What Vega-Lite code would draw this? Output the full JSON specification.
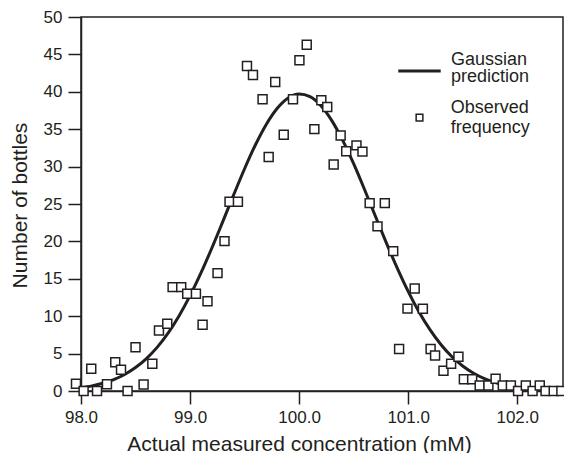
{
  "$schema": "https://vega.github.io/schema/vega-lite/v6.json",
  "autosize": {"type": "none"},
  "padding": {"left": 81, "top": 17, "right": 1, "bottom": 62},
  "width": 482,
  "height": 374,
  "background": "white",
  "config": {
    "view": {"stroke": "#231f20", "strokeWidth": 1.5},
    "font": "Liberation Sans",
    "axis": {
      "grid": false,
      "domainColor": "#231f20",
      "domainWidth": 1.5,
      "tickColor": "#231f20",
      "tickWidth": 1.5,
      "tickSize": 13,
      "labelColor": "#231f20",
      "labelFont": "Liberation Sans",
      "labelFontSize": 17,
      "titleColor": "#231f20",
      "titleFont": "Liberation Sans",
      "titleFontSize": 21,
      "titleFontWeight": "normal"
    },
    "legend": {
      "labelFont": "Liberation Sans",
      "labelFontSize": 18,
      "labelColor": "#231f20"
    }
  },
  "datasets": {
    "observed": [
      {"conc": 97.954, "count": 0.96},
      {"conc": 98.024, "count": 0},
      {"conc": 98.094, "count": 2.97},
      {"conc": 98.147, "count": 0},
      {"conc": 98.238, "count": 0.91},
      {"conc": 98.314, "count": 3.85},
      {"conc": 98.367, "count": 2.84},
      {"conc": 98.427, "count": 0},
      {"conc": 98.5, "count": 5.86},
      {"conc": 98.574, "count": 0.87},
      {"conc": 98.654, "count": 3.64},
      {"conc": 98.715, "count": 8.09},
      {"conc": 98.791, "count": 8.99},
      {"conc": 98.84, "count": 13.89},
      {"conc": 98.919, "count": 13.89},
      {"conc": 98.974, "count": 13.0},
      {"conc": 99.054, "count": 13.0},
      {"conc": 99.115, "count": 8.86},
      {"conc": 99.16, "count": 12.01},
      {"conc": 99.252, "count": 15.76},
      {"conc": 99.316, "count": 20.04},
      {"conc": 99.362, "count": 25.31},
      {"conc": 99.439, "count": 25.31},
      {"conc": 99.522, "count": 43.45},
      {"conc": 99.577, "count": 42.25},
      {"conc": 99.665, "count": 39.0},
      {"conc": 99.721, "count": 31.28},
      {"conc": 99.781, "count": 41.3},
      {"conc": 99.859, "count": 34.25},
      {"conc": 99.944, "count": 39.0},
      {"conc": 100.003, "count": 44.21},
      {"conc": 100.07, "count": 46.29},
      {"conc": 100.14, "count": 35.01},
      {"conc": 100.204, "count": 38.86},
      {"conc": 100.258, "count": 37.97},
      {"conc": 100.317, "count": 30.27},
      {"conc": 100.381, "count": 34.15},
      {"conc": 100.432, "count": 32.04},
      {"conc": 100.526, "count": 32.84},
      {"conc": 100.581, "count": 32.0},
      {"conc": 100.647, "count": 25.12},
      {"conc": 100.719, "count": 22.01},
      {"conc": 100.786, "count": 25.12},
      {"conc": 100.863, "count": 18.7},
      {"conc": 100.917, "count": 5.62},
      {"conc": 100.994, "count": 11.01},
      {"conc": 101.06, "count": 13.71},
      {"conc": 101.135, "count": 11.0},
      {"conc": 101.206, "count": 5.62},
      {"conc": 101.247, "count": 4.75},
      {"conc": 101.324, "count": 2.7},
      {"conc": 101.394, "count": 3.64},
      {"conc": 101.461, "count": 4.58},
      {"conc": 101.511, "count": 1.58},
      {"conc": 101.587, "count": 1.58},
      {"conc": 101.656, "count": 0.74},
      {"conc": 101.736, "count": 0.74},
      {"conc": 101.802, "count": 1.63},
      {"conc": 101.868, "count": 0.74},
      {"conc": 101.942, "count": 0.74},
      {"conc": 102.008, "count": 0},
      {"conc": 102.079, "count": 0.74},
      {"conc": 102.141, "count": 0},
      {"conc": 102.207, "count": 0.74},
      {"conc": 102.26, "count": 0},
      {"conc": 102.335, "count": 0},
      {"conc": 102.405, "count": 0}
    ],
    "gaussian": [
      {"conc": 98.0, "count": 0.441},
      {"conc": 98.1, "count": 0.683},
      {"conc": 98.2, "count": 1.032},
      {"conc": 98.3, "count": 1.528},
      {"conc": 98.4, "count": 2.212},
      {"conc": 98.5, "count": 3.132},
      {"conc": 98.6, "count": 4.337},
      {"conc": 98.7, "count": 5.869},
      {"conc": 98.8, "count": 7.772},
      {"conc": 98.9, "count": 10.065},
      {"conc": 99.0, "count": 12.745},
      {"conc": 99.1, "count": 15.783},
      {"conc": 99.2, "count": 19.117},
      {"conc": 99.3, "count": 22.644},
      {"conc": 99.4, "count": 26.229},
      {"conc": 99.5, "count": 29.714},
      {"conc": 99.6, "count": 32.922},
      {"conc": 99.7, "count": 35.671},
      {"conc": 99.8, "count": 37.797},
      {"conc": 99.9, "count": 39.168},
      {"conc": 100.0, "count": 39.696},
      {"conc": 100.1, "count": 39.343},
      {"conc": 100.2, "count": 38.135},
      {"conc": 100.3, "count": 36.15},
      {"conc": 100.4, "count": 33.513},
      {"conc": 100.5, "count": 30.385},
      {"conc": 100.6, "count": 26.94},
      {"conc": 100.7, "count": 23.36},
      {"conc": 100.8, "count": 19.81},
      {"conc": 100.9, "count": 16.43},
      {"conc": 101.0, "count": 13.325},
      {"conc": 101.1, "count": 10.569},
      {"conc": 101.2, "count": 8.199},
      {"conc": 101.3, "count": 6.22},
      {"conc": 101.4, "count": 4.615},
      {"conc": 101.5, "count": 3.349},
      {"conc": 101.6, "count": 2.376},
      {"conc": 101.7, "count": 1.649},
      {"conc": 101.8, "count": 1.119},
      {"conc": 101.9, "count": 0.743},
      {"conc": 102.0, "count": 0.482}
    ]
  },
  "encoding": {
    "x": {
      "field": "conc",
      "type": "quantitative",
      "scale": {"domain": [98, 102.42], "nice": false, "zero": false},
      "axis": {
        "title": "Actual measured concentration (mM)",
        "values": [98, 99, 100, 101, 102],
        "format": ".1f",
        "labelPadding": 5,
        "labelFlush": false,
        "titleX": 218,
        "titleY": 59,
        "titleAlign": "center",
        "titleBaseline": "alphabetic"
      }
    },
    "y": {
      "field": "count",
      "type": "quantitative",
      "scale": {"domain": [0, 50], "nice": false},
      "axis": {
        "title": "Number of bottles",
        "values": [0, 5, 10, 15, 20, 25, 30, 35, 40, 45, 50],
        "labelPadding": 6,
        "titleX": -55,
        "titleY": 188,
        "titleAlign": "center",
        "titleBaseline": "alphabetic",
        "titleAngle": -90
      }
    }
  },
  "resolve": {"scale": {"color": "independent"}, "legend": {"color": "independent"}},
  "layer": [
    {
      "data": {"name": "gaussian"},
      "mark": {"type": "line", "strokeWidth": 3, "interpolate": "monotone"},
      "encoding": {
        "color": {
          "datum": "Gaussian prediction",
          "scale": {"range": ["#231f20"]},
          "legend": {
            "title": null,
            "orient": "none",
            "legendX": 315.5,
            "legendY": 31,
            "symbolType": "stroke",
            "symbolSize": 1800,
            "symbolStrokeWidth": 3,
            "labelOffset": 8.5,
            "labelExpr": "['Gaussian', 'prediction']",
            "encode": {"labels": {"update": {"lineHeight": {"value": 17}, "dy": {"value": -11}}}}
          }
        }
      }
    },
    {
      "data": {"name": "observed"},
      "mark": {"type": "point", "shape": "square", "size": 80, "filled": false, "fill": "white", "fillOpacity": 1, "strokeWidth": 1.5, "opacity": 1},
      "encoding": {
        "color": {
          "datum": "Observed frequency",
          "scale": {"range": ["#231f20"]},
          "legend": {
            "title": null,
            "orient": "none",
            "legendX": 329.5,
            "legendY": 81.5,
            "symbolType": "M-1,2.04H1V4.04H-1Z",
            "symbolSize": 45,
            "symbolStrokeWidth": 1.5,
            "symbolFillColor": "white",
            "labelOffset": 22.3,
            "labelExpr": "['Observed', 'frequency']",
            "encode": {
              "labels": {"update": {"lineHeight": {"value": 17}}}
            }
          }
        }
      }
    }
  ]
}
